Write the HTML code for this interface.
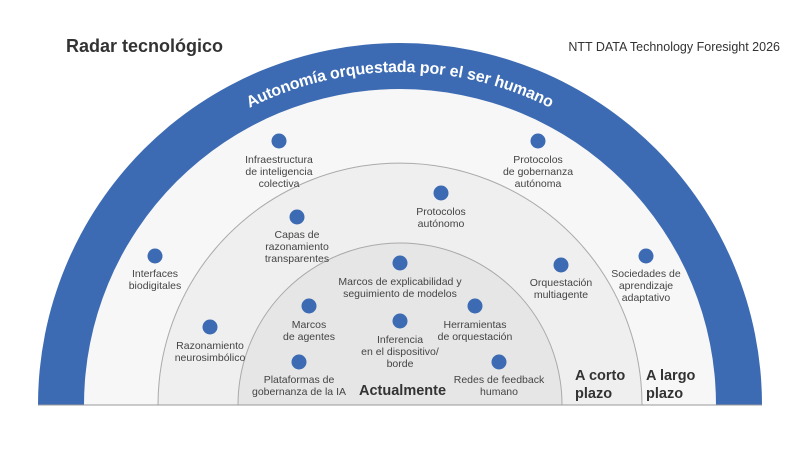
<!DOCTYPE html>
<html><head><meta charset="utf-8"><style>
body{margin:0;background:#fff;}
svg{display:block;font-family:"Liberation Sans",sans-serif;}
.l{font-size:10.5px;fill:#444;text-anchor:middle;}
.b{font-size:14.5px;font-weight:bold;fill:#333;}
</style></head><body>
<svg width="800" height="449" viewBox="0 0 800 449">
<rect width="800" height="449" fill="#fff"/>
<text x="66" y="52" font-size="18" font-weight="bold" fill="#333">Radar tecnológico</text>
<text x="780" y="51" font-size="12.5" fill="#333" text-anchor="end">NTT DATA Technology Foresight 2026</text>
<path d="M38 405 A362 362 0 0 1 762 405 Z" fill="#3d6bb3"/>
<path d="M84 405 A316 316 0 0 1 716 405 Z" fill="#f7f7f7"/>
<path d="M158 405 A242 242 0 0 1 642 405 Z" fill="#efefef" stroke="#aaa" stroke-width="1"/>
<path d="M238 405 A162 162 0 0 1 562 405 Z" fill="#e6e6e6" stroke="#aaa" stroke-width="1"/>
<line x1="38" y1="405" x2="762" y2="405" stroke="#999" stroke-width="1"/>
<defs><path id="arc" d="M61 405 A339 339 0 0 1 739 405"/></defs>
<text font-size="16" font-weight="bold" fill="#fff" dy="6"><textPath href="#arc" startOffset="50%" text-anchor="middle">Autonomía orquestada por el ser humano</textPath></text>
<g fill="#3d6bb3">
<circle cx="279" cy="141" r="7.5"/><circle cx="538" cy="141" r="7.5"/>
<circle cx="441" cy="193" r="7.5"/><circle cx="297" cy="217" r="7.5"/>
<circle cx="155" cy="256" r="7.5"/><circle cx="646" cy="256" r="7.5"/>
<circle cx="400" cy="263" r="7.5"/><circle cx="561" cy="265" r="7.5"/>
<circle cx="210" cy="327" r="7.5"/><circle cx="309" cy="306" r="7.5"/>
<circle cx="475" cy="306" r="7.5"/><circle cx="400" cy="321" r="7.5"/>
<circle cx="299" cy="362" r="7.5"/><circle cx="499" cy="362" r="7.5"/>
</g>
<text class="l" x="279" y="163">Infraestructura</text><text class="l" x="279" y="175">de inteligencia</text><text class="l" x="279" y="187">colectiva</text>
<text class="l" x="538" y="163">Protocolos</text><text class="l" x="538" y="175">de gobernanza</text><text class="l" x="538" y="187">autónoma</text>
<text class="l" x="441" y="215">Protocolos</text><text class="l" x="441" y="227">autónomo</text>
<text class="l" x="297" y="238">Capas de</text><text class="l" x="297" y="250">razonamiento</text><text class="l" x="297" y="262">transparentes</text>
<text class="l" x="155" y="277">Interfaces</text><text class="l" x="155" y="289">biodigitales</text>
<text class="l" x="646" y="277">Sociedades de</text><text class="l" x="646" y="289">aprendizaje</text><text class="l" x="646" y="301">adaptativo</text>
<text class="l" x="400" y="285">Marcos de explicabilidad y</text><text class="l" x="400" y="297">seguimiento de modelos</text>
<text class="l" x="561" y="286">Orquestación</text><text class="l" x="561" y="298">multiagente</text>
<text class="l" x="210" y="349">Razonamiento</text><text class="l" x="210" y="361">neurosimbólico</text>
<text class="l" x="309" y="328">Marcos</text><text class="l" x="309" y="340">de agentes</text>
<text class="l" x="475" y="328">Herramientas</text><text class="l" x="475" y="340">de orquestación</text>
<text class="l" x="400" y="343">Inferencia</text><text class="l" x="400" y="355">en el dispositivo/</text><text class="l" x="400" y="367">borde</text>
<text class="l" x="299" y="383">Plataformas de</text><text class="l" x="299" y="395">gobernanza de la IA</text>
<text class="l" x="499" y="383">Redes de feedback</text><text class="l" x="499" y="395">humano</text>
<text class="b" x="359" y="395">Actualmente</text>
<text class="b" x="575" y="380">A corto</text><text class="b" x="575" y="398">plazo</text>
<text class="b" x="646" y="380">A largo</text><text class="b" x="646" y="398">plazo</text>
</svg>
</body></html>
